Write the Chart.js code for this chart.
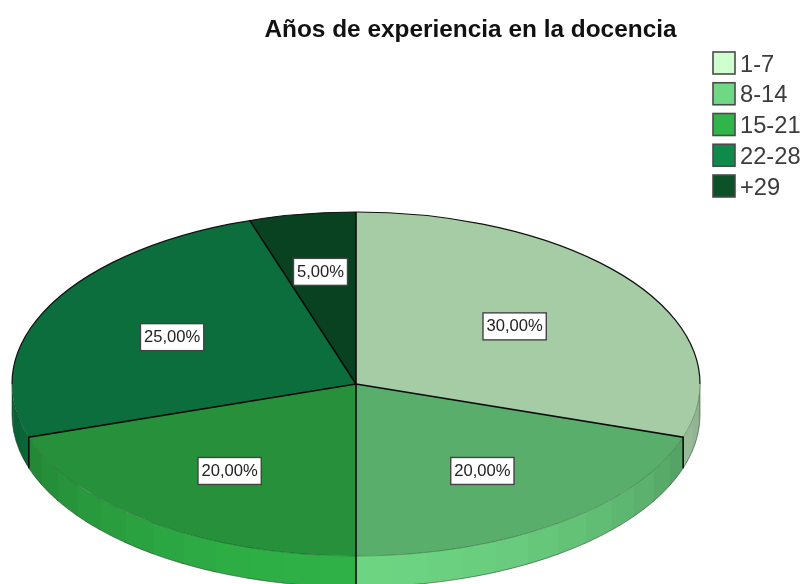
<!DOCTYPE html>
<html>
<head>
<meta charset="utf-8">
<style>html,body{margin:0;padding:0;background:#fff}canvas{display:block}</style>
<script src="https://cdn.jsdelivr.net/npm/chart.js@4"></script>
</head>
<body>
<canvas id="c" width="803" height="584"></canvas>
<script>
const chartTitle = 'Años de experiencia en la docencia';
const categories = ['1-7', '8-14', '15-21', '22-28', '+29'];
const values = [30, 20, 20, 25, 5];
const valueLabels = ['30,00%', '20,00%', '20,00%', '25,00%', '5,00%'];
const legendColors = ['#CFFFCF', '#6FD885', '#30B548', '#0E8A4B', '#0B5228'];
const topColors = ['#A5CCA5', '#59AE6B', '#26913A', '#0B6E3C', '#094220'];

const labelReach = [0.57, 0.625, 0.625, 0.6, 0.66];
const CX = 356, CY = 384, RX = 344, RY = 172, DEPTH = 31, BAND = Math.PI / 30;

function shadeColor(hex, k) {
  const n = parseInt(hex.slice(1), 16);
  const c = [(n >> 16) & 255, (n >> 8) & 255, n & 255].map(v => Math.round(v * k));
  return `rgb(${c[0]},${c[1]},${c[2]})`;
}

const pie3d = {
  id: 'pie3d',
  afterLayout(chart) {
    const lg = chart.legend, tb = chart.titleBlock;
    const h = lg.height;
    lg.left = 707.4; lg.right = 803; lg.top = 47.75; lg.bottom = 47.75 + h;
    tb.left = 265 - 140; tb.right = 676 + 140;
  },
  beforeDatasetsDraw(chart) {
    const ctx = chart.ctx, arcs = chart.getDatasetMeta(0).data;
    // side wall, drawn in flat bands along the front half, each overlapping the next
    arcs.forEach((arc, i) => {
      const a0 = Math.max(arc.startAngle, 0), a1 = Math.min(arc.endAngle, Math.PI);
      if (a1 <= a0) return;
      let t = Math.floor(a0 / BAND) * BAND;
      while (t < a1 - 1e-6) {
        const s = Math.max(t, a0), e = Math.min(t + BAND + 0.008, a1);
        const k = 0.68 + 0.3 * Math.pow(Math.sin((s + e) / 2), 1.3);
        ctx.beginPath();
        ctx.ellipse(CX, CY, RX, RY, 0, s, e);
        ctx.ellipse(CX, CY + DEPTH, RX, RY, 0, e, s, true);
        ctx.closePath();
        ctx.fillStyle = shadeColor(legendColors[i], k);
        ctx.fill();
        t += BAND;
      }
    });
    // thin rim along the lower wall edge
    ctx.beginPath();
    ctx.ellipse(CX, CY + DEPTH, RX, RY, 0, 0, Math.PI);
    ctx.strokeStyle = 'rgba(20,40,20,0.6)';
    ctx.lineWidth = 0.8;
    ctx.stroke();
    ctx.beginPath();
    ctx.moveTo(CX + RX, CY); ctx.lineTo(CX + RX, CY + DEPTH);
    ctx.moveTo(CX - RX, CY); ctx.lineTo(CX - RX, CY + DEPTH);
    ctx.stroke();

    const a = arcs[0];
    ctx.save();
    ctx.translate(CX, CY);
    ctx.scale(RX / a.outerRadius, RY / a.outerRadius);
    ctx.translate(-a.x, -a.y);
  },
  afterDatasetsDraw(chart) {
    const ctx = chart.ctx, arcs = chart.getDatasetMeta(0).data;
    ctx.restore();
    // front rim of the top face
    ctx.beginPath();
    ctx.ellipse(CX, CY, RX, RY, 0, 0, Math.PI);
    ctx.strokeStyle = 'rgba(20,50,20,0.4)';
    ctx.lineWidth = 0.8;
    ctx.stroke();
    // black back rim of the top face
    ctx.beginPath();
    ctx.ellipse(CX, CY, RX, RY, 0, Math.PI, Math.PI * 2);
    ctx.strokeStyle = '#111';
    ctx.lineWidth = 1.2;
    ctx.stroke();
    // radial dividers and vertical wall edges
    arcs.forEach(arc => {
      const t = arc.startAngle;
      const x = CX + RX * Math.cos(t), y = CY + RY * Math.sin(t);
      ctx.beginPath();
      ctx.moveTo(CX, CY); ctx.lineTo(x, y);
      if (Math.sin(t) > 0) ctx.lineTo(x, y + DEPTH);
      ctx.strokeStyle = '#0a0a0a';
      ctx.lineWidth = 1.6;
      ctx.stroke();
    });
    // value labels
    ctx.font = '16.6px "Liberation Sans", Arial, sans-serif';
    ctx.textAlign = 'center';
    ctx.textBaseline = 'middle';
    arcs.forEach((arc, i) => {
      const m = (arc.startAngle + arc.endAngle) / 2;
      const x = CX + RX * labelReach[i] * Math.cos(m);
      const y = CY + RY * labelReach[i] * Math.sin(m);
      const w = ctx.measureText(valueLabels[i]).width + 7, h = 27;
      ctx.fillStyle = '#fff';
      ctx.fillRect(x - w / 2, y - h / 2, w, h);
      ctx.strokeStyle = '#444';
      ctx.lineWidth = 1.4;
      ctx.strokeRect(x - w / 2, y - h / 2, w, h);
      ctx.fillStyle = '#222';
      ctx.fillText(valueLabels[i], x, y + 0.5);
    });
  },
  afterDraw(chart) {
    const ctx = chart.ctx;
    legendColors.forEach((col, i) => {
      const x = 713, y = 52 + i * 30.75;
      ctx.fillStyle = col;
      ctx.fillRect(x, y, 22, 22);
      ctx.strokeStyle = '#4a4a4a';
      ctx.lineWidth = 1.6;
      ctx.strokeRect(x, y, 22, 22);
    });
  }
};

new Chart(document.getElementById('c'), {
  type: 'pie',
  data: {
    labels: categories,
    datasets: [{ data: values, backgroundColor: topColors, borderWidth: 0, clip: false }]
  },
  plugins: [pie3d],
  options: {
    responsive: false,
    animation: false,
    layout: { padding: { left: 0, right: 0, top: 0, bottom: 0 } },
    plugins: {
      tooltip: { enabled: false },
      title: {
        display: true,
        text: chartTitle,
        color: '#111',
        font: { family: '"Liberation Sans", Arial, sans-serif', size: 24.4, weight: 'bold' },
        padding: { top: 16, bottom: 4 }
      },
      legend: {
        display: true,
        position: 'right',
        align: 'start',
        labels: {
          boxWidth: 17,
          boxHeight: 27,
          padding: 3.75,
          color: '#3c3c3c',
          font: { family: '"Liberation Sans", Arial, sans-serif', size: 23.7 },
          generateLabels: chart => chart.data.labels.map((text, i) => ({
            text,
            fillStyle: 'rgba(0,0,0,0)',
            strokeStyle: 'rgba(0,0,0,0)',
            lineWidth: 0,
            fontColor: '#3c3c3c',
            index: i
          }))
        }
      }
    }
  }
});
</script>
</body>
</html>
